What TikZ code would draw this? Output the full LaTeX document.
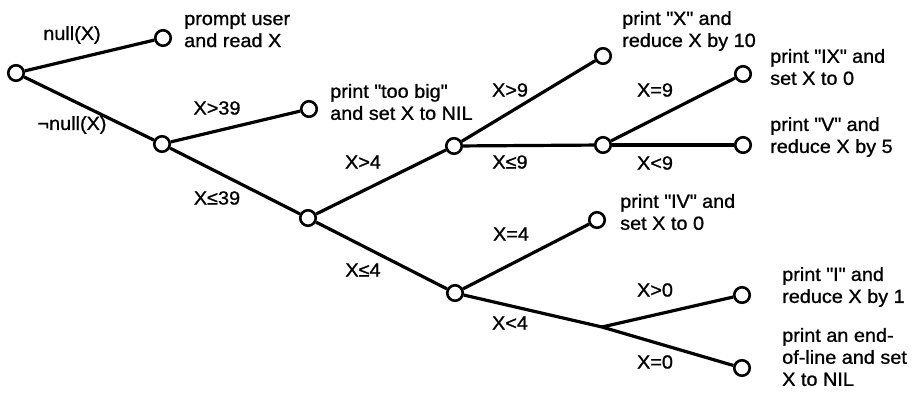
\documentclass[tikz,border=0pt]{standalone}
\usepackage{fontspec}
\setmainfont[FakeStretch=1.045,FakeBold=1]{Liberation Sans}
\begin{document}
\begin{tikzpicture}[x=1pt,y=-1pt,
  dot/.style={circle,draw,line width=2.6pt,fill=white,minimum size=15.5pt,inner sep=0pt},
  edge/.style={line width=3.2pt,line join=round},
  lab/.style={font=\fontsize{19}{22}\selectfont,inner sep=0pt},
  leaftxt/.style={font=\fontsize{19}{22}\selectfont,anchor=west,align=left,inner sep=0pt}]
\useasboundingbox (0,0) rectangle (915,402);
% nodes
\node[dot] (root) at (16,73) {};
\node[dot] (nul) at (163,38) {};
\node[dot] (nn) at (162,144) {};
\node[dot] (big) at (309,109) {};
\node[dot] (le39) at (308,218) {};
\node[dot] (gt4) at (454,146) {};
\node[dot] (gt9) at (603,56) {};
\node[dot] (le9) at (603,145) {};
\node[dot] (eq9) at (743,74) {};
\node[dot] (lt9) at (743,145) {};
\node[dot] (le4) at (455,293) {};
\node[dot] (eq4) at (597,220) {};
\coordinate (br) at (602,327);
\node[dot] (gt0) at (742,295) {};
\node[dot] (eq0) at (742,368) {};
% edges
\draw[edge] (root) -- (nul);
\draw[edge] (root) -- (nn);
\draw[edge] (nn) -- (big);
\draw[edge] (nn) -- (le39);
\draw[edge] (le39) -- (gt4);
\draw[edge] (le39) -- (le4);
\draw[edge] (gt4) -- (gt9);
\draw[edge] (gt4) -- (le9);
\draw[edge] (le9) -- (eq9);
\draw[edge] (le9) -- (lt9);
\draw[edge] (le4) -- (eq4);
\draw[edge] (le4) -- (br) -- (eq0);
\draw[edge] (br) -- (gt0);
% edge labels
\node[lab] (l1) at (72,35) {null(X)};
\node[lab] (l2) at (72,125) {¬null(X)};
\node[lab] (l3) at (217,108) {X>39};
\node[lab] (l4) at (217,198) {X≤39};
\node[lab] (l5) at (363,162) {X>4};
\node[lab] (l6) at (363,270) {X≤4};
\node[lab] (l7) at (510,90) {X>9};
\node[lab] (l8) at (510,162) {X≤9};
\node[lab] (l9) at (655,90) {X=9};
\node[lab] (l10) at (655,163) {X<9};
\node[lab] (l11) at (511,234) {X=4};
\node[lab] (l12) at (510,323) {X<4};
\node[lab] (l13) at (655,290) {X>0};
\node[lab] (l14) at (655,362) {X=0};
% leaf texts
\node[leaftxt] (t1) at (184,30) {prompt user\\and read X};
\node[leaftxt] (t2) at (330,102) {print \textquotedbl too big\textquotedbl\\and set X to NIL};
\node[leaftxt] (t3) at (622,31) {print \textquotedbl X\textquotedbl{} and\\reduce X by 10};
\node[leaftxt] (t4) at (770,67) {print \textquotedbl IX\textquotedbl{} and\\set X to 0};
\node[leaftxt] (t5) at (770,137) {print \textquotedbl V\textquotedbl{} and\\reduce X by 5};
\node[leaftxt] (t6) at (620,212) {print \textquotedbl IV\textquotedbl{} and\\set X to 0};
\node[leaftxt] (t7) at (782,287) {print \textquotedbl I\textquotedbl{} and\\reduce X by 1};
\node[leaftxt] (t8) at (782,357) {print an end-\\of-line and set\\X to NIL};
\end{tikzpicture}
\end{document}
